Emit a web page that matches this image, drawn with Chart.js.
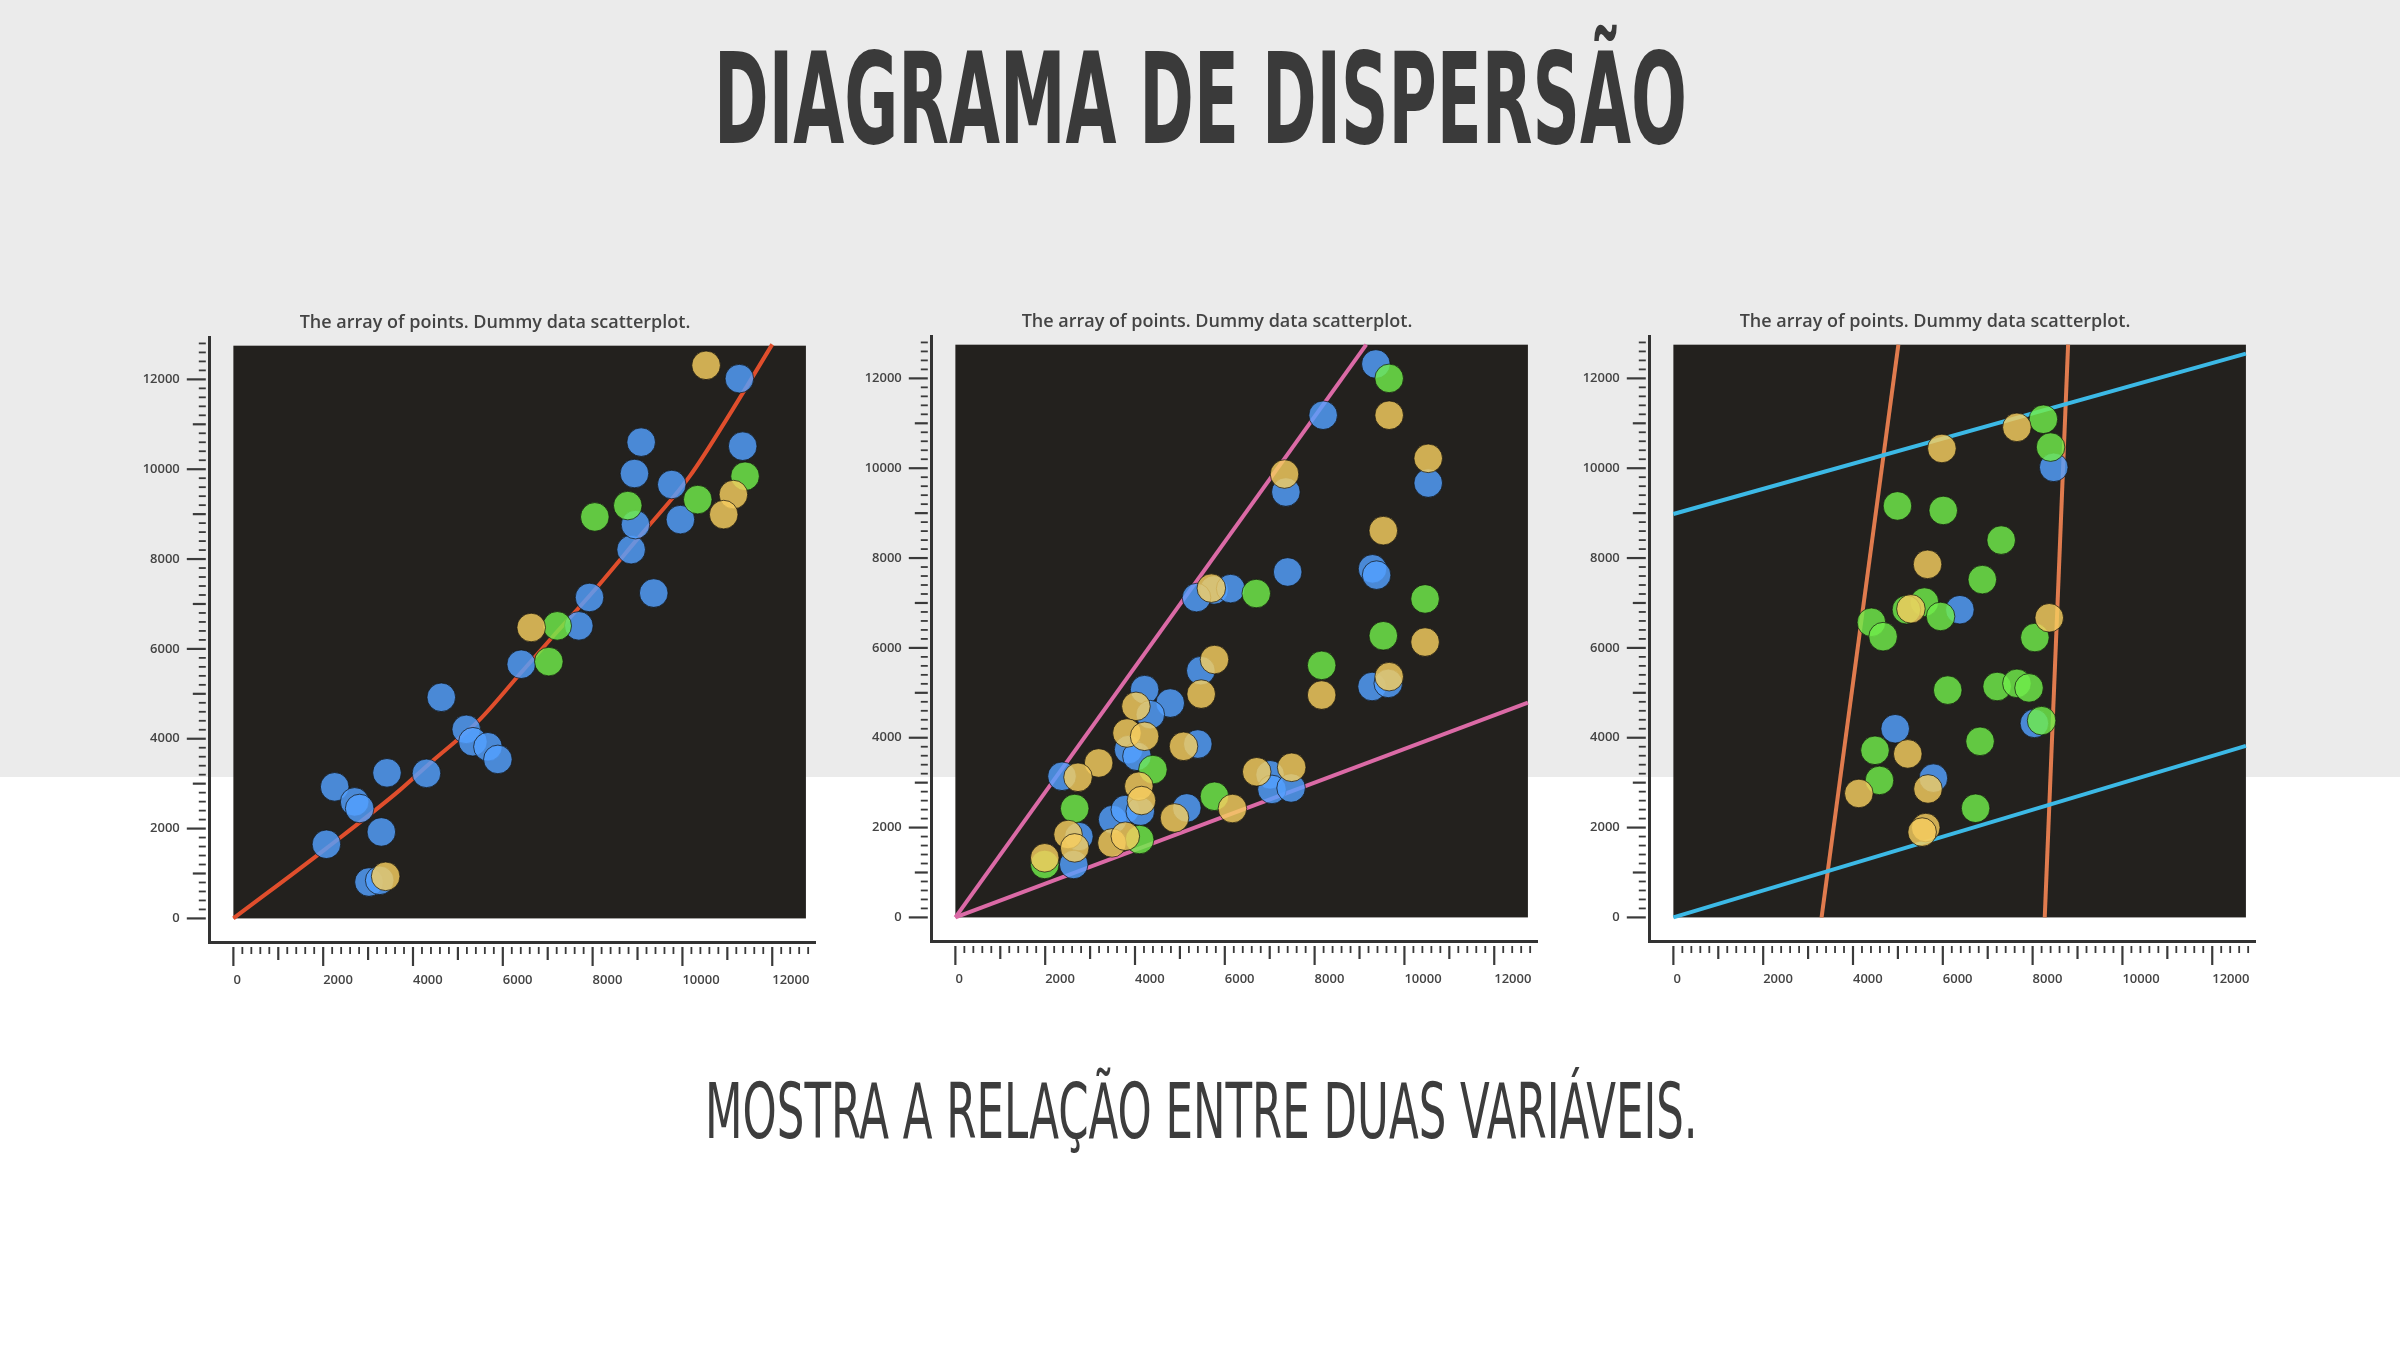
<!DOCTYPE html>
<html>
<head>
<meta charset="utf-8">
<script src="https://cdn.jsdelivr.net/npm/chart.js"></script>
<style>
html,body{margin:0;padding:0;}
body{width:2400px;height:1350px;position:relative;overflow:hidden;background:#ffffff;}
#band{position:absolute;left:0;top:0;width:2400px;height:777px;background:#ebebeb;}
canvas{position:absolute;}
.head{position:absolute;white-space:nowrap;line-height:1;transform-origin:0 0;font-family:"Liberation Sans Narrow","DejaVu Sans Condensed","Liberation Sans",sans-serif;}
#title{font-size:127px;font-weight:700;top:36px;left:714px;color:#3a3a3a;}
#subtitle{font-size:76px;font-weight:400;top:1074px;left:705px;color:#3d3d3d;}
</style>
</head>
<body>
<div id="band"></div>
<div id="title" class="head">DIAGRAMA DE DISPERSÃO</div>
<div id="subtitle" class="head">MOSTRA A RELAÇÃO ENTRE DUAS VARIÁVEIS.</div>
<canvas id="c1" width="790" height="722" style="left:100px;top:280px;width:790px;height:722px"></canvas>
<canvas id="c2" width="790" height="722" style="left:822px;top:279px;width:790px;height:722px"></canvas>
<canvas id="c3" width="790" height="722" style="left:1540px;top:279px;width:790px;height:722px"></canvas>
<script>
// ---------- data ----------
const chartTitle = "The array of points. Dummy data scatterplot.";
const tickValues = [0, 2000, 4000, 6000, 8000, 10000, 12000];

// chart 1
const blue1 = [[2072,1651],[2256,2929],[2701,2594],[2812,2447],[3295,1925],[3020,810],[3258,848],[3421,3241],[4300,3230],[4630,4923],[5186,4209],[5334,3933],[5668,3821],[5890,3540],[6410,5659],[7693,6513],[7931,7145],[8858,8209],[8954,8766],[8932,9904],[9081,10603],[9361,7243],[9762,9659],[9955,8878],[11268,12016],[11342,10513]];
const green1 = [[7212,6513],[7025,5717],[8049,8938],[8783,9190],[10341,9324],[11395,9844]];
const yellow1 = [[3391,937],[6633,6476],[10527,12313],[11135,9436],[10919,8990]];
const curve1 = [[0,0],[2070,1560],[3700,2850],[4370,3450],[5480,4420],[6370,5430],[7110,6270],[8000,7260],[9000,8450],[10160,9840],[11100,11300],[12000,12780]];

// chart 2
const blue2 = [[9364,12320],[8190,11180],[7360,9470],[10530,9670],[7400,7690],[9290,7760],[9380,7620],[5466,5493],[5760,7290],[6130,7320],[5370,7120],[9280,5140],[9640,5210],[4214,5070],[4785,4772],[4341,4514],[3858,3736],[4043,3587],[5399,3860],[2375,3142],[7009,3175],[7050,2850],[7476,2882],[5154,2437],[3502,2179],[3784,2401],[4118,2364],[2635,1179],[2750,1800]];
const yellow2 = [[9660,11180],[7330,9870],[10530,10220],[9530,8610],[10460,6130],[8157,4950],[9660,5360],[5770,5740],[5474,4972],[4021,4699],[3821,4105],[4214,4032],[5081,3809],[3191,3438],[2731,3120],[4085,2920],[4145,2602],[6711,3242],[7489,3342],[6170,2424],[4881,2215],[2509,1846],[2657,1548],[3487,1659],[3784,1807],[1990,1327],[5700,7330]];
const green2 = [[9660,12000],[6700,7210],[10460,7090],[9530,6270],[8157,5611],[4399,3291],[5770,2697],[2657,2424],[4103,1734],[1990,1179]];
const upperLine2 = [[0,0],[9150,12750]];
const lowerLine2 = [[0,0],[12750,4780]];

// chart 3
const green3 = [[8240,11090],[8400,10470],[4990,9160],[6010,9060],[7300,8400],[6880,7520],[5590,7020],[4410,6570],[4670,6250],[5950,6700],[5190,6850],[8050,6230],[6110,5060],[7210,5140],[7650,5210],[7920,5110],[8200,4380],[6830,3920],[4490,3720],[4590,3050],[6730,2430]];
const yellow3 = [[7650,10910],[5980,10440],[5660,7860],[5290,6870],[8370,6670],[5220,3640],[4130,2760],[5670,2860],[5620,2000],[5540,1900]];
const blue3 = [[8470,10020],[6380,6850],[4940,4200],[8040,4320],[5790,3100]];
const cyanUpper3 = [[0,8980],[12750,12550]];
const cyanLower3 = [[0,0],[12750,3820]];
const orangeLeft3 = [[3300,0],[5010,12750]];
const orangeRight3 = [[8270,0],[8790,12750]];

// ---------- styling ----------
const AXIS_MIN = -525, AXIS_MAX = 12930, PLOT_MAX = 12750, MINOR_MAX = 12800, MINOR_STEP = 200;
const BLUE = 'rgba(83,160,255,0.82)';
const GREEN = 'rgba(112,237,75,0.82)';
const YELLOW = 'rgba(245,205,95,0.82)';

function fitWidth(id, w){
  const el = document.getElementById(id);
  const cw = el.offsetWidth;
  el.style.transform = 'scaleX(' + (w / cw) + ')';
}
fitWidth('title', 973);
fitWidth('subtitle', 993);

Chart.defaults.font.family = "'Open Sans', sans-serif";

function pts(arr){ return arr.map(p => ({x:p[0], y:p[1]})); }
function dotSet(data, color){
  return {data: pts(data), backgroundColor: color, borderColor: 'rgba(15,14,12,0.7)', borderWidth: 1,
          pointRadius: 14.3, pointHoverRadius: 14.3, showLine: false, order: 0};
}
function lineSet(data, color, smooth){
  return {data: pts(data), showLine: true, borderColor: color, borderWidth: 4, pointRadius: 0,
          pointHoverRadius: 0, fill: false, tension: smooth ? 0.4 : 0,
          cubicInterpolationMode: smooth ? 'monotone' : 'default', order: 10};
}

const decor = {
  id: 'decor',
  beforeDatasetsDraw(chart){
    const {ctx, scales:{x, y}} = chart;
    const l = x.getPixelForValue(0), r = x.getPixelForValue(PLOT_MAX);
    const t = y.getPixelForValue(PLOT_MAX), b = y.getPixelForValue(0);
    ctx.save();
    ctx.fillStyle = '#23211e';
    ctx.fillRect(l, t, r - l, b - t);
    ctx.restore();
  },
  afterDraw(chart){
    const {ctx, chartArea, scales:{x, y}} = chart;
    ctx.save();
    ctx.strokeStyle = '#3a3a3a';
    for (let v = 0; v <= MINOR_MAX; v += MINOR_STEP){
      const len = v % 2000 === 0 ? 19 : (v % 1000 === 0 ? 13 : 7);
      ctx.lineWidth = v % 1000 === 0 ? 2.2 : 1.8;
      const py = y.getPixelForValue(v);
      ctx.beginPath();
      ctx.moveTo(chartArea.left - 4 - len, py);
      ctx.lineTo(chartArea.left - 4, py);
      ctx.stroke();
      const px = x.getPixelForValue(v);
      ctx.beginPath();
      ctx.moveTo(px, chartArea.bottom + 5);
      ctx.lineTo(px, chartArea.bottom + 5 + len);
      ctx.stroke();
    }
    ctx.restore();
  }
};

function zeroPad(s){ s.paddingLeft = 0; s.paddingRight = 0; s.paddingTop = 0; s.paddingBottom = 0; }

function scaleCfg(axis){
  return {
    type: 'linear', min: AXIS_MIN, max: AXIS_MAX,
    afterBuildTicks: s => { s.ticks = tickValues.map(v => ({value: v})); },
    afterFit: s => {
      if (axis === 'x') s.height = 60; else s.width = 109.8;
      zeroPad(s);
    },
    grid: {display: true, drawOnChartArea: false, drawTicks: false, color: 'rgba(0,0,0,0)', lineWidth: 3},
    border: {display: true, color: '#333333', width: 3},
    ticks: {padding: 30, align: axis === 'x' ? 'start' : 'center', maxRotation: 0, autoSkip: false,
            color: '#444444', font: {family: "'Open Sans', sans-serif", size: 13, weight: '600'},
            callback: v => String(v)}
  };
}

// invisible right-hand spacer axis so the title stays centred on the canvas
const spacerAxis = {
  type: 'linear', position: 'right', display: true,
  afterFit: s => { s.width = 76; zeroPad(s); },
  ticks: {display: false}, grid: {display: false}, border: {display: false}
};

function makeChart(id, datasets){
  new Chart(document.getElementById(id), {
    type: 'scatter',
    data: {datasets},
    options: {
      responsive: false, animation: false, devicePixelRatio: 1,
      layout: {padding: 0},
      scales: {x: scaleCfg('x'), y: scaleCfg('y'), yr: spacerAxis},
      plugins: {
        legend: {display: false}, tooltip: {enabled: false},
        title: {display: true, text: chartTitle, color: '#444444',
                font: {family: "'Open Sans', sans-serif", size: 18, weight: '600'},
                padding: {top: 32, bottom: 4}}
      }
    },
    plugins: [decor]
  });
}

makeChart('c1', [dotSet(yellow1, YELLOW), dotSet(green1, GREEN), dotSet(blue1, BLUE),
                 lineSet(curve1, '#e04e2c', true)]);
makeChart('c2', [dotSet(yellow2, YELLOW), dotSet(green2, GREEN), dotSet(blue2, BLUE),
                 lineSet(upperLine2, '#db6aa6', false), lineSet(lowerLine2, '#db6aa6', false)]);
makeChart('c3', [dotSet(yellow3, YELLOW), dotSet(green3, GREEN), dotSet(blue3, BLUE),
                 lineSet(cyanUpper3, '#3cb9e6', false), lineSet(cyanLower3, '#3cb9e6', false),
                 lineSet(orangeLeft3, '#e07b4e', false), lineSet(orangeRight3, '#e07b4e', false)]);
</script>
</body>
</html>
